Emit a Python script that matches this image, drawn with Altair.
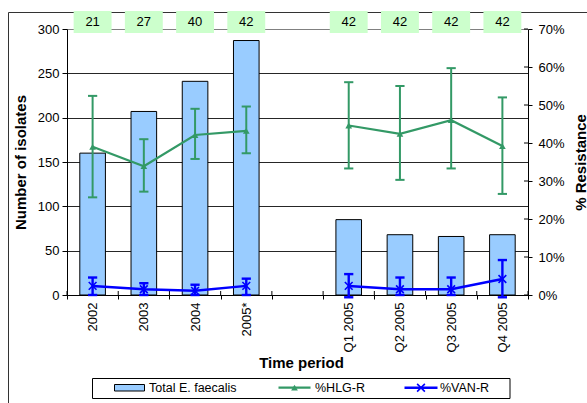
import altair as alt
import pandas as pd

# Time periods along the x axis; slot 4 is an empty spacer between annual and quarterly data
periods = ["2002", "2003", "2004", "2005*", "", "Q1 2005", "Q2 2005", "Q3 2005", "Q4 2005"]
labels = ["2002", "2003", "2004", "2005*", "Q1 2005", "Q2 2005", "Q3 2005", "Q4 2005"]
slots = [0, 1, 2, 3, 5, 6, 7, 8]
groups = ["annual", "annual", "annual", "annual",
          "quarterly", "quarterly", "quarterly", "quarterly"]

# Total E. faecalis isolates (left axis)
total_isolates = [160, 207, 241, 287, 85, 68, 66, 68]

# High-level gentamicin resistance, % with 95% interval (right axis)
hlg_pct = [39.0, 33.9, 42.1, 43.2, 44.6, 42.4, 46.0, 39.2]
hlg_low = [25.7, 27.2, 35.8, 37.3, 33.3, 30.3, 33.3, 26.6]
hlg_high = [52.4, 41.0, 49.0, 49.6, 56.0, 55.0, 59.7, 52.0]

# Vancomycin resistance, % with 95% interval (right axis)
van_pct = [2.4, 1.5, 1.1, 2.4, 2.4, 1.5, 1.5, 4.2]
van_low = [0.0, 0.0, 0.0, 0.0, -0.6, 0.0, 0.0, -0.6]
van_high = [4.6, 3.1, 2.7, 4.3, 5.5, 4.6, 4.6, 9.2]

# Number of isolates tested for HLG resistance
hlg_tested = [21, 27, 40, 42, 42, 42, 42, 42]

count_ticks = [0, 50, 100, 150, 200, 250, 300]
pct_ticks = [0, 10, 20, 30, 40, 50, 60, 70]

FONT = "Liberation Sans"
GREEN = "#339966"
BLUE = "#0000FF"
BAR = "#99CCFF"

df = pd.DataFrame({
    "period": labels, "slot": slots, "group": groups,
    "total": total_isolates,
    "hlg": hlg_pct, "hlg_low": hlg_low, "hlg_high": hlg_high,
    "van": van_pct, "van_low": van_low, "van_high": van_high,
    "tested": hlg_tested,
})
df["center"] = df["slot"] + 0.5
df["bar0"] = df["slot"] + 0.25
df["bar1"] = df["slot"] + 0.75
df["cap0"] = df["center"] - 0.09
df["cap1"] = df["center"] + 0.09
df["box0"] = df["center"] - 0.37
df["box1"] = df["center"] + 0.37

bounds = pd.DataFrame({"b": list(range(10))})
pct_df = pd.DataFrame({"p": pct_ticks})
one = pd.DataFrame({"k": [0]})

label_array = "[" + ",".join("'%s'" % p for p in periods) + "]"

xscale = alt.Scale(domain=[0, 9], nice=False, zero=False)
xaxis = alt.Axis(
    values=[i * 0.5 for i in range(19)],
    labelExpr="datum.value % 1 === 0 ? '' : " + label_array + "[floor(datum.value)]",
    labelAngle=270, labelAlign="right", labelBaseline="middle",
    labelFont=FONT, labelFontSize=13, labelColor="black", labelPadding=3,
    labelOverlap=False, labelFlush=False,
    tickOpacity={"condition": {"test": "datum.value % 1 !== 0", "value": 0}, "value": 1},
    tickSize=4, tickColor="black", domainColor="black", grid=False,
    title="Time period", titleFont=FONT, titleFontSize=15, titleFontWeight="bold",
    titleColor="black", titleX=234, titleY=67, titleBaseline="middle", titleAlign="center",
)

left_scale = alt.Scale(domain=[0, 300], nice=False, padding=0)
left_axis = alt.Axis(
    values=count_ticks, orient="left", grid=True,
    gridColor={"condition": {"test": "datum.value === 300", "value": "#808080"}, "value": "#262626"},
    gridWidth=1, tickSize=5, tickColor="black", domainColor="black",
    labelFont=FONT, labelFontSize=13, labelColor="black", labelPadding=3,
    title="Number of isolates", titleFont=FONT, titleFontSize=15, titleFontWeight="bold",
    titleColor="black", titleAngle=270, titleX=-47, titleY=133,
    titleBaseline="middle", titleAlign="center",
)

right_scale = alt.Scale(domain=[0, 70], nice=False)
right_axis = alt.Axis(
    values=pct_ticks, orient="right", grid=False, labelExpr="datum.value + '%'",
    tickSize=4, tickColor="black", domainColor="black",
    labelFont=FONT, labelFontSize=13, labelColor="black", labelPadding=6,
    title="% Resistance", titleFont=FONT, titleFontSize=15, titleFontWeight="bold",
    titleColor="black", titleAngle=270, titleX=52, titleY=133,
    titleBaseline="middle", titleAlign="center",
)


def X(field):
    return alt.X(field, scale=xscale, axis=xaxis)


# Outer document frame
frame = alt.Chart(one).mark_rect(fillOpacity=0, stroke="#333333", strokeWidth=1).encode(
    x=alt.value(-58.5), x2=alt.value(560), y=alt.value(-16.5), y2=alt.value(420)
)

# Bars of total isolates on the left axis
bars = alt.Chart(df).mark_bar(fill=BAR, stroke="black", strokeWidth=1).encode(
    x=X("bar0:Q"), x2="bar1:Q",
    y=alt.Y("total:Q", scale=left_scale, axis=left_axis),
    y2=alt.datum(0),
)

inner_xticks = alt.Chart(bounds).mark_rule(color="black", strokeWidth=1).encode(
    x=X("b:Q"), y=alt.value(262), y2=alt.value(266)
)

boxes = alt.Chart(df).mark_rect(fill="#CCFFCC").encode(
    x=X("box0:Q"), x2="box1:Q", y=alt.value(-18), y2=alt.value(4)
)
box_text = alt.Chart(df).mark_text(font=FONT, fontSize=13, color="black", baseline="middle").encode(
    x=X("center:Q"), y=alt.value(-7), text="tested:Q"
)

left_group = alt.layer(bars, inner_xticks, boxes, box_text)


def RY(field):
    return alt.Y(field, scale=right_scale, axis=right_axis)


hlg_err = alt.Chart(df).mark_rule(color=GREEN, strokeWidth=2).encode(
    x=X("center:Q"), y=RY("hlg_low:Q"), y2="hlg_high:Q"
)
hlg_cap_lo = alt.Chart(df).mark_rule(color=GREEN, strokeWidth=2).encode(
    x=X("cap0:Q"), x2="cap1:Q", y=RY("hlg_low:Q")
)
hlg_cap_hi = alt.Chart(df).mark_rule(color=GREEN, strokeWidth=2).encode(
    x=X("cap0:Q"), x2="cap1:Q", y=RY("hlg_high:Q")
)
hlg_line = alt.Chart(df).mark_line(color=GREEN, strokeWidth=2.2).encode(
    x=X("center:Q"), y=RY("hlg:Q"), detail="group:N"
)
hlg_pts = alt.Chart(df).mark_point(shape="triangle-up", filled=True, size=45, color=GREEN, opacity=1).encode(
    x=X("center:Q"), y=RY("hlg:Q")
)

van_err = alt.Chart(df).mark_rule(color=BLUE, strokeWidth=2.4).encode(
    x=X("center:Q"), y=RY("van_low:Q"), y2="van_high:Q"
)
van_cap_lo = alt.Chart(df).mark_rule(color=BLUE, strokeWidth=2.4).encode(
    x=X("cap0:Q"), x2="cap1:Q", y=RY("van_low:Q")
)
van_cap_hi = alt.Chart(df).mark_rule(color=BLUE, strokeWidth=2.4).encode(
    x=X("cap0:Q"), x2="cap1:Q", y=RY("van_high:Q")
)
van_line = alt.Chart(df).mark_line(color=BLUE, strokeWidth=2.5).encode(
    x=X("center:Q"), y=RY("van:Q"), detail="group:N"
)
CROSS = "M-1,-1L1,1M-1,1L1,-1"
van_pts = alt.Chart(df).mark_point(shape=CROSS, filled=False, size=60, strokeWidth=1.6, color=BLUE, opacity=1).encode(
    x=X("center:Q"), y=RY("van:Q")
)

inner_rticks = alt.Chart(pct_df).mark_rule(color="black", strokeWidth=1).encode(
    x=alt.value(457), x2=alt.value(461), y=RY("p:Q")
)

right_group = alt.layer(
    inner_rticks, hlg_err, hlg_cap_lo, hlg_cap_hi, hlg_line, hlg_pts,
    van_err, van_cap_lo, van_cap_hi, van_line, van_pts,
)

# Legend box below the plot
LY = 358.7
leg_box = alt.Chart(one).mark_rect(fill="white", stroke="black", strokeWidth=1).encode(
    x=alt.value(25.5), x2=alt.value(443), y=alt.value(349.5), y2=alt.value(369.5)
)
leg_bar = alt.Chart(one).mark_rect(fill=BAR, stroke="black", strokeWidth=1).encode(
    x=alt.value(47.5), x2=alt.value(77.5), y=alt.value(355.5), y2=alt.value(362)
)
leg_green = alt.Chart(one).mark_rule(color=GREEN, strokeWidth=2.2).encode(
    x=alt.value(211.5), x2=alt.value(243.5), y=alt.value(LY)
)
leg_tri = alt.Chart(one).mark_point(shape="triangle-up", filled=True, size=45, color=GREEN, opacity=1).encode(
    x=alt.value(227.5), y=alt.value(LY)
)
leg_blue = alt.Chart(one).mark_rule(color=BLUE, strokeWidth=2.5).encode(
    x=alt.value(337.5), x2=alt.value(370.5), y=alt.value(LY)
)
leg_x = alt.Chart(one).mark_point(shape=CROSS, filled=False, size=60, strokeWidth=1.6, color=BLUE, opacity=1).encode(
    x=alt.value(354), y=alt.value(LY)
)


def leg_text(txt, xpos):
    return alt.Chart(one).mark_text(font=FONT, fontSize=12.5, color="black", align="left", baseline="middle").encode(
        x=alt.value(xpos), y=alt.value(LY), text=alt.value(txt)
    )


legend = alt.layer(
    leg_box, leg_bar, leg_green, leg_tri, leg_blue, leg_x,
    leg_text("Total E. faecalis", 82), leg_text("%HLG-R", 248), leg_text("%VAN-R", 373),
)

chart = alt.layer(frame, left_group, right_group, legend).resolve_scale(
    y="independent"
).properties(
    width=461, height=266,
    padding={"left": 67, "top": 29, "right": 59, "bottom": 108},
    autosize=alt.AutoSizeParams(type="none"),
    background="white",
).configure_view(stroke=None)

chart.save("out.html", embed_options={"renderer": "svg", "actions": False})
